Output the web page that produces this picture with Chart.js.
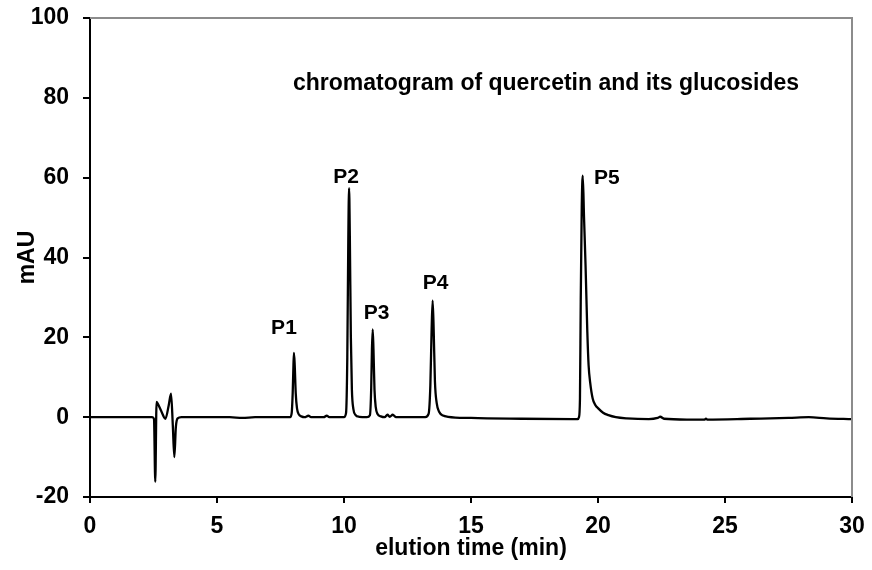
<!DOCTYPE html>
<html>
<head>
<meta charset="utf-8">
<title>chromatogram</title>
<script src="https://cdn.jsdelivr.net/npm/chart.js@4.4.1/dist/chart.umd.min.js"></script>
<style>
  body { margin: 0; background: #fff; }
  #chromato { display: block; }
</style>
</head>
<body>
<canvas id="chromato" width="872" height="570"></canvas>
<script>
// elution time (min) and detector signal (mAU)
const elutionTime = [
  0, 1.0, 2.0, 2.45, 2.52, 2.57, 2.62, 2.70, 2.80, 2.97, 3.10, 3.19, 3.26, 3.32, 3.38, 3.45, 3.6,
  4.5, 5.5, 6.0, 6.5, 7.5,
  7.88, 7.94, 7.98, 8.01, 8.03, 8.06, 8.10, 8.15, 8.22, 8.32, 8.45, 8.6, 8.7, 9.2, 9.32, 9.42,
  10.0, 10.08, 10.13, 10.17, 10.20, 10.23, 10.27, 10.31, 10.37, 10.45, 10.6, 10.9,
  11.02, 11.07, 11.10, 11.13, 11.16, 11.20, 11.25, 11.32, 11.45, 11.6, 11.71, 11.8, 11.92, 12.05,
  13.2, 13.33, 13.40, 13.45, 13.49, 13.53, 13.58, 13.65, 13.75, 13.9, 14.1,
  15.0, 17.0, 19.0, 19.2, 19.25, 19.29, 19.32, 19.36, 19.40, 19.45, 19.51, 19.58, 19.63, 19.69,
  19.79, 19.9, 20.01, 20.2, 20.41, 20.7, 21.13, 22.0, 22.35, 22.45, 22.6, 23.5, 24.2, 24.25,
  24.3, 26.0, 27.5, 28.3, 29.0, 30.0
];
const signalMAU = [
  0, 0, 0, 0, -0.5, -16.2, 3.8, 3.0, 1.6, -0.4, 3.0, 5.9, -2.0, -10.0, -2.5, -0.3, 0,
  0, 0, -0.2, 0, 0,
  0, 1.0, 6, 13, 16.1, 13, 6, 2.2, 0.7, 0.2, 0, 0.35, 0, 0, 0.35, 0,
  0, 1, 15, 45, 57.4, 45, 20, 7, 2, 0.6, 0.1, 0,
  0.5, 7, 17, 22.0, 17, 7, 2.5, 0.8, 0.2, 0, 0.6, 0.1, 0.6, 0,
  0, 0.8, 8, 22, 29.2, 22, 9, 3.5, 1.3, 0.4, 0.1,
  -0.2, -0.4, -0.5, -0.5, 0, 4.7, 29, 52.6, 60.5, 50, 38, 21.3, 13, 8.8,
  4.7, 3.0, 2.2, 1.1, 0.5, 0, -0.3, -0.5, -0.2, 0.1, -0.4, -0.6, -0.6, -0.4,
  -0.6, -0.4, -0.2, 0, -0.3, -0.5
];

// peak names with their apex (time, mAU)
const peakNames = ['P1', 'P2', 'P3', 'P4', 'P5'];
const peakTimes = [8.03, 10.20, 11.13, 13.49, 19.40];
const peakHeights = [16.1, 57.4, 22.0, 29.2, 60.5];

const xTicks = [0, 5, 10, 15, 20, 25, 30];
const yTicks = [-20, 0, 20, 40, 60, 80, 100];

const fontFam = '"Liberation Sans", Arial, sans-serif';

const points = elutionTime.map((t, i) => ({ x: t, y: signalMAU[i] }));

// label text offsets (px) from each apex
const labelShift = [[-10, -25], [-3, -11], [4, -16], [3, -17], [24, 3]];

const peakLabels = {
  id: 'peakLabels',
  afterDatasetsDraw(chart) {
    const { ctx, scales: { x, y }, chartArea } = chart;
    ctx.save();
    ctx.fillStyle = '#000';
    ctx.textAlign = 'center';
    ctx.textBaseline = 'middle';
    ctx.font = 'bold 21px ' + fontFam;
    peakNames.forEach((name, i) => {
      const px = x.getPixelForValue(peakTimes[i]) + labelShift[i][0];
      const py = y.getPixelForValue(peakHeights[i]) + labelShift[i][1];
      ctx.fillText(name, px, py);
    });
    // caption inside the plot
    ctx.textAlign = 'left';
    ctx.font = 'bold 23px ' + fontFam;
    ctx.fillText('chromatogram of quercetin and its glucosides', chartArea.left + 203, chartArea.top + 66);
    ctx.restore();
  },
  afterDraw(chart) {
    // grey frame on top and right
    const { ctx, chartArea: a } = chart;
    ctx.save();
    ctx.strokeStyle = '#8c8c8c';
    ctx.lineWidth = 2;
    ctx.beginPath();
    ctx.moveTo(a.left, a.top);
    ctx.lineTo(a.right, a.top);
    ctx.lineTo(a.right, a.bottom);
    ctx.stroke();
    ctx.restore();
  }
};

// fixed box sizes, no extra room for edge labels
function fixBox(s) {
  if (s.isHorizontal()) s.height = 73; else s.width = 90;
  s.paddingTop = 0; s.paddingBottom = 0; s.paddingLeft = 0; s.paddingRight = 0;
}

new Chart(document.getElementById('chromato'), {
  type: 'line',
  data: {
    datasets: [{
      data: points,
      borderColor: '#000',
      borderWidth: 2.3,
      pointRadius: 0,
      cubicInterpolationMode: 'monotone',
      fill: false
    }]
  },
  options: {
    responsive: false,
    animation: false,
    layout: { padding: { top: 18, right: 20, bottom: 0, left: 0 } },
    plugins: {
      legend: { display: false },
      tooltip: { enabled: false }
    },
    scales: {
      x: {
        type: 'linear',
        min: 0,
        max: 30,
        afterBuildTicks: s => { s.ticks = xTicks.map(v => ({ value: v })); },
        afterFit: fixBox,
        grid: { drawOnChartArea: false, drawTicks: true, tickLength: 6, color: '#000', lineWidth: 2 },
        border: { color: '#000', width: 2 },
        ticks: { color: '#000', padding: 10, maxRotation: 0, font: { family: fontFam, size: 23, weight: 'bold' } },
        title: { display: true, text: 'elution time (min)', color: '#000', padding: { top: 0, bottom: 8 },
                 font: { family: fontFam, size: 23, weight: 'bold' } }
      },
      y: {
        min: -20,
        max: 100,
        afterBuildTicks: s => { s.ticks = yTicks.map(v => ({ value: v })); },
        afterFit: fixBox,
        grid: { drawOnChartArea: false, drawTicks: true, tickLength: 7, color: '#000', lineWidth: 2 },
        border: { color: '#000', width: 2 },
        ticks: { color: '#000', padding: 14, font: { family: fontFam, size: 23, weight: 'bold' } },
        title: { display: true, text: 'mAU', color: '#000', padding: { top: 14, bottom: 0 },
                 font: { family: fontFam, size: 23, weight: 'bold' } }
      }
    }
  },
  plugins: [peakLabels]
});
</script>
</body>
</html>
